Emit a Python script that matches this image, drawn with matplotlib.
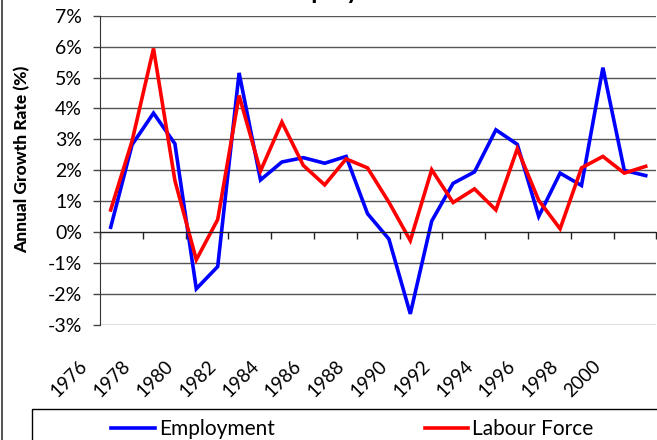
import numpy as np
import matplotlib
matplotlib.use("Agg")
import matplotlib.pyplot as plt
import matplotlib.transforms as mtrans
from matplotlib.patches import Rectangle
from matplotlib.lines import Line2D

# data (annual growth, %)
years = list(range(1976, 2002))
employment = [0.16, 2.83, 3.85, 2.86, -1.83, -1.11, 5.15, 1.69, 2.27, 2.41,
              2.23, 2.45, 0.60, -0.22, -2.64, 0.36, 1.58, 1.95, 3.31, 2.84,
              0.51, 1.91, 1.51, 5.32, 2.00, 1.83]
labour_force = [0.72, 2.95, 5.94, 1.67, -0.89, 0.41, 4.42, 1.98, 3.56, 2.16,
                1.53, 2.37, 2.08, 0.97, -0.27, 2.02, 0.96, 1.40, 0.72, 2.70,
                1.03, 0.11, 2.08, 2.45, 1.91, 2.13]
y_ticks = list(range(-3, 8))

plt.rcParams['font.family'] = ['Lato', 'DejaVu Sans']

W, H = 657, 440
fig = plt.figure(figsize=(W / 100, H / 100), dpi=100)
ax = fig.add_axes([100 / W, 1 - 325 / H, 556.4 / W, 309.3 / H])

x = np.arange(len(years))
ax.plot(x, employment, color='#0000ff', lw=2.6, solid_joinstyle='miter')
ax.plot(x, labour_force, color='#ff0000', lw=2.6, solid_joinstyle='miter')

ax.set_xlim(-0.5, len(years) - 0.5)
ax.set_ylim(-3, 7)
ax.set_yticks(y_ticks)
ax.set_yticklabels(['%d%%' % v for v in y_ticks], fontsize=14)
ax.tick_params(axis='y', direction='out', length=5, width=1, color='#444444', pad=8)
ax.grid(axis='y', color='#555555', lw=1)
ax.set_axisbelow(True)

# x axis line crosses at 0 with category boundary ticks
ax.spines['bottom'].set_position(('data', 0))
ax.spines['bottom'].set_color('#222222')
ax.spines['left'].set_color('#333333')
ax.spines['top'].set_visible(False)
ax.spines['right'].set_visible(False)
ax.set_xticks(np.arange(-0.5, len(years), 2))
ax.set_xticklabels([])
ax.tick_params(axis='x', direction='out', length=5, width=1, color='#222222')

# year labels below plot area
ax2 = ax.secondary_xaxis(0.0)
ax2.spines['bottom'].set_visible(False)
ax2.set_xticks(x[::2])
ax2.set_xticklabels([str(y) for y in years[::2]], rotation=45, ha='right',
                    va='center', rotation_mode='anchor', fontsize=13.5)
ax2.tick_params(axis='x', length=0, pad=0)
off = mtrans.ScaledTranslation(-26 / 100, -38 / 100, fig.dpi_scale_trans)
for lbl in ax2.get_xticklabels():
    lbl.set_transform(lbl.get_transform() + off)

ax.set_ylabel('Annual Growth Rate (%)', fontsize=12.5, fontweight='black')
ax.yaxis.set_label_coords(-70 / 556.4, 0.535)

# title, mostly cut off at the top
fig.text(276 / W, 1 + 1 / H, 'Employment and Labour Force Growth',
         fontsize=18, fontweight='bold', ha='left', va='baseline')

# chart border and legend box
fig.patches.append(Rectangle((2 / W, -0.5), 2, 2, transform=fig.transFigure,
                             fill=False, edgecolor='#333333', lw=1.2))
fig.patches.append(Rectangle((32 / W, -0.5), 2, (0.5 + 1 - 409 / H),
                             transform=fig.transFigure, fill=False,
                             edgecolor='black', lw=1))
handles = [Line2D([], [], color='#0000ff', lw=2.6),
           Line2D([], [], color='#ff0000', lw=2.6)]
fig.legend(handles, ['Employment', 'Labour Force'], ncol=2, frameon=False,
           loc='center left', bbox_to_anchor=(92 / W, 1 - 429 / H),
           fontsize=15, handlelength=2.1, handletextpad=0.2,
           columnspacing=7.2)

fig.savefig('out.png', dpi=100)
